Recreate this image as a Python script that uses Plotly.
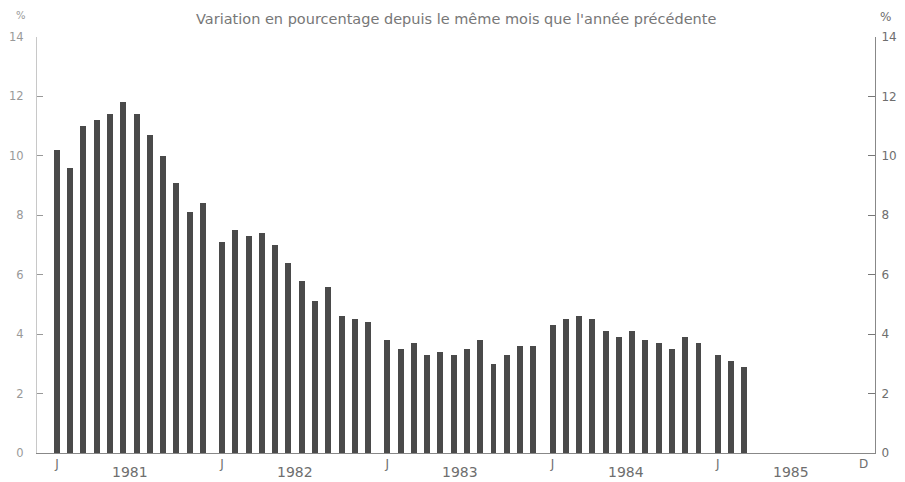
import plotly.graph_objects as go

years = [1981, 1982, 1983, 1984, 1985]
months = ["J", "F", "M", "A", "M", "J", "J", "A", "S", "O", "N", "D"]

v1981 = [10.2, 9.6, 11.0, 11.2, 11.4, 11.8, 11.4, 10.7, 10.0, 9.1, 8.1, 8.4]
v1982 = [7.1, 7.5, 7.3, 7.4, 7.0, 6.4, 5.8, 5.1, 5.6, 4.6, 4.5, 4.4]
v1983 = [3.8, 3.5, 3.7, 3.3, 3.4, 3.3, 3.5, 3.8, 3.0, 3.3, 3.6, 3.6]
v1984 = [4.3, 4.5, 4.6, 4.5, 4.1, 3.9, 4.1, 3.8, 3.7, 3.5, 3.9, 3.7]
v1985 = [3.3, 3.1, 2.9]
series = [v1981, v1982, v1983, v1984, v1985]

y_ticks = [0, 2, 4, 6, 8, 10, 12, 14]
title_text = "Variation en pourcentage depuis le même mois que l'année précédente"

YEAR_STEP = 12.45  # 12 monthly slots plus a gap between years

xs, ys = [], []
for yi, vals in enumerate(series):
    for m, v in enumerate(vals):
        xs.append(yi * YEAR_STEP + m)
        ys.append(v)

tickvals = [yi * YEAR_STEP for yi in range(len(years))] + [4 * YEAR_STEP + 11]
ticktext = ["J"] * len(years) + ["D"]

FONT = "DejaVu Sans, Liberation Sans, sans-serif"
GREY = "#6e6e6e"

fig = go.Figure()
fig.add_trace(go.Bar(x=xs, y=ys, width=0.45, marker=dict(color="#4a4a4a", line=dict(width=0)),
                     showlegend=False, hoverinfo="x+y"))

# page body has an 8px default margin: size the figure so the plot sits where the reference's does
fig.update_layout(
    width=897, height=474,
    margin=dict(l=29, r=30, t=29, b=29, autoexpand=False),
    paper_bgcolor="white", plot_bgcolor="white",
    font=dict(family=FONT, size=12, color=GREY),
    bargap=0,
    xaxis=dict(range=[-1.5, 61.65], tickvals=tickvals, ticktext=ticktext, automargin=False,
               showline=True, linecolor="#888", linewidth=1, ticks="", showgrid=False,
               zeroline=False, tickfont=dict(size=12, color=GREY), fixedrange=True),
    yaxis=dict(range=[0, 14], tickvals=y_ticks, showline=True, linecolor="#c8c8c8", linewidth=1,
               ticks="inside", ticklen=6, tickcolor="#999", showgrid=False, zeroline=False,
               automargin=False, ticklabelstandoff=10,
               tickfont=dict(size=11.5, color="#999")),
    yaxis2=dict(range=[0, 14], tickvals=y_ticks, overlaying="y", side="right", showline=True,
                linecolor="#888", linewidth=1, ticks="inside", ticklen=7, tickcolor="#777",
                showgrid=False, zeroline=False, automargin=False, ticklabelstandoff=3,
                tickfont=dict(size=12, color=GREY)),
)

# invisible trace on the right axis so it is drawn
fig.add_trace(go.Scatter(x=[xs[0]], y=[0], yaxis="y2", mode="markers",
                         marker=dict(opacity=0), showlegend=False, hoverinfo="skip"))

for yi, yr in enumerate(years):
    fig.add_annotation(x=yi * YEAR_STEP + 5.5, y=0, xref="x", yref="paper", yanchor="middle",
                       yshift=-19, text=str(yr), showarrow=False, font=dict(size=14, color=GREY))

fig.add_annotation(x=0.5, y=1, xref="paper", yref="paper", yanchor="middle", yshift=18,
                   text=title_text, showarrow=False, font=dict(size=14.5, color="#777"))
fig.add_annotation(x=-0.027, y=1, xref="paper", yref="paper", yshift=22, yanchor="middle",
                   text="%", showarrow=False, font=dict(size=10, color="#999"))
fig.add_annotation(x=1.021, y=1, xref="paper", yref="paper", yanchor="middle", yshift=20,
                   text="%", showarrow=False, font=dict(size=12, color=GREY))

fig.write_html("out.html")
